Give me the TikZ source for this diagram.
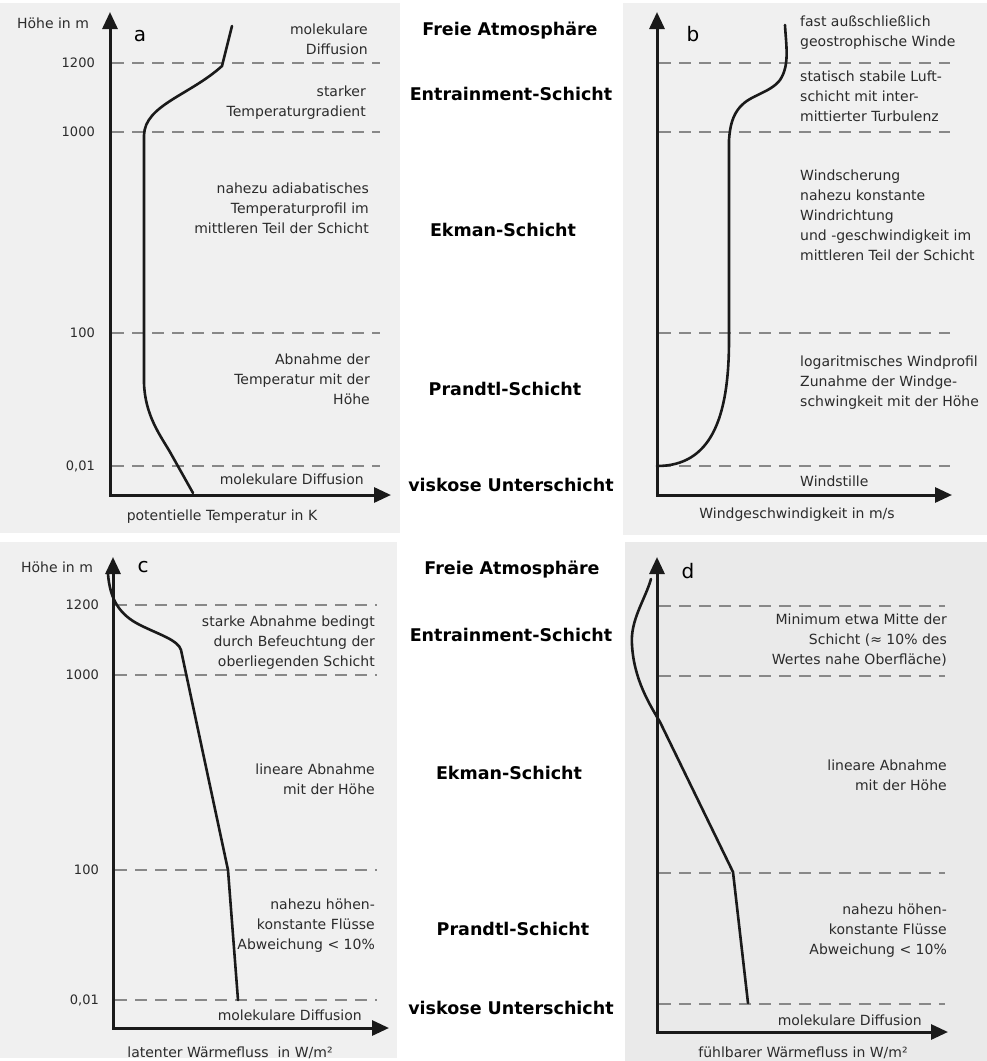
\documentclass[tikz,border=0pt]{standalone}
\usepackage{fontspec}
\setmainfont{DejaVu Sans}
\usetikzlibrary{arrows.meta}
\definecolor{bgA}{HTML}{F0F0F0}
\definecolor{bgD}{HTML}{EAEAEA}
\definecolor{txtg}{HTML}{2B2B2B}
\definecolor{dashg}{HTML}{888888}
\definecolor{curveg}{HTML}{1A1A1A}
\begin{document}
\begin{tikzpicture}[x=1pt,y=-1pt,
  txt/.style={font=\fontsize{14}{20}\selectfont, text=txtg, inner sep=0pt},
  rtxt/.style={txt, anchor=east, align=right},
  ltxt/.style={txt, anchor=west, align=left},
  ctxt/.style={txt, anchor=center, align=center},
  tick/.style={font=\fontsize{13}{15}\selectfont, text=txtg, inner sep=0pt, anchor=east},
  layer/.style={font=\bfseries\fontsize{17.5}{20}\selectfont, inner sep=0pt},
  plabel/.style={font=\fontsize{20}{22}\selectfont, inner sep=0pt},
  axis/.style={line width=3pt, curveg, {Triangle[length=17pt,width=15pt]}-{Triangle[length=17pt,width=15pt]}},
  level/.style={dashg, line width=1.3pt, dash pattern=on 12pt off 8pt},
  profile/.style={line width=2.6pt, line join=round, line cap=round, curveg}
]
\useasboundingbox (0,0) rectangle (987,1061);
\fill[white] (0,0) rectangle (987,1061);
% panel backgrounds
\fill[bgA] (0,3) rectangle (400,533);
\fill[bgA] (623,3) rectangle (987,535);
\fill[bgA] (0,542) rectangle (397,1058);
\fill[bgD] (625,542) rectangle (987,1061);

% ---------- panel a ----------
\coordinate (aT) at (110,12);
\coordinate (aO) at (110,495);
\coordinate (aX) at (391,495);
\foreach \y in {63,132,333,466} \draw[level] (112,\y) -- (380,\y);
\draw[axis] (aT) -- (aO) -- (aX);
\draw[profile] (232,26) -- (222,66) .. controls (190,95) and (145,105) .. (144,135)
  -- (144,383) .. controls (145,415) and (160,435) .. (170,452) -- (193,493);
\node[plabel] (la) at (140,36) {a};
\node[ctxt] (ha) at (53,23) {Höhe in m};
\node[tick] (a1200) at (95,63) {1200};
\node[tick] (a1000) at (95,132) {1000};
\node[tick] (a100) at (95,333) {100};
\node[tick] (a001) at (95,466) {0,01};
\node[rtxt] (at1) at (368,39) {molekulare\\Diffusion};
\node[rtxt] (at2) at (366,103) {starker\\Temperaturgradient};
\node[rtxt] (at3) at (369,208) {nahezu adiabatisches\\Temperaturprofil im\\mittleren Teil der Schicht};
\node[rtxt] (at4) at (370,379) {Abnahme der\\Temperatur mit der\\Höhe};
\node[rtxt] (at5) at (364,479) {molekulare Diffusion};
\node[ctxt] (ax) at (222,517) {potentielle Temperatur in K};

% ---------- panel b ----------
\coordinate (bT) at (657,12);
\coordinate (bO) at (657,495);
\coordinate (bX) at (952,495);
\foreach \y in {63,132,333,466} \draw[level] (659,\y) -- (950,\y);
\draw[axis] (bT) -- (bO) -- (bX);
\draw[profile] (785,25) .. controls (786,45) and (790,65) .. (780,80)
  .. controls (770,93) and (750,95) .. (740,107)
  .. controls (733,115) and (730,125) .. (729,140) -- (729,340)
  .. controls (729,420) and (710,466) .. (657,466);
\node[plabel] (lb) at (693,34) {b};
\node[ltxt] (bt1) at (800,33) {fast außschließlich\\geostrophische Winde};
\node[ltxt] (bt2) at (800,96) {statisch stabile Luft-\\schicht mit inter-\\mittierter Turbulenz};
\node[ltxt] (bt3) at (800,215) {Windscherung\\nahezu konstante\\Windrichtung\\und -geschwindigkeit im\\mittleren Teil der Schicht};
\node[ltxt] (bt4) at (800,383) {logaritmisches Windprofil\\Zunahme der Windge-\\schwingkeit mit der Höhe};
\node[ltxt] (bt5) at (800,481) {Windstille};
\node[ctxt] (bx) at (797,515) {Windgeschwindigkeit in m/s};

% ---------- panel c ----------
\coordinate (cT) at (113,557);
\coordinate (cO) at (113,1028);
\coordinate (cX) at (389,1028);
\foreach \y in {605,675,870,1000} \draw[level] (115,\y) -- (377,\y);
\draw[axis] (cT) -- (cO) -- (cX);
\draw[profile] (108,574) .. controls (110,600) and (120,615) .. (140,625)
  .. controls (160,635) and (178,640) .. (181,650) -- (228,870) -- (238,1000);
\node[plabel] (lc) at (143,567) {c};
\node[ctxt] (hc) at (57,567) {Höhe in m};
\node[tick] (c1200) at (99,605) {1200};
\node[tick] (c1000) at (99,675) {1000};
\node[tick] (c100) at (99,870) {100};
\node[tick] (c001) at (99,1000) {0,01};
\node[rtxt] (ct1) at (375,643) {starke Abnahme bedingt\\durch Befeuchtung der\\oberliegenden Schicht};
\node[rtxt] (ct2) at (375,779) {lineare Abnahme\\mit der Höhe};
\node[rtxt] (ct3) at (375,926) {nahezu höhen-\\konstante Flüsse\\Abweichung < 10\%};
\node[rtxt] (ct4) at (362,1015) {molekulare Diffusion};
\node[ctxt] (cx) at (230,1053) {latenter Wärmefluss~ in W/m²};

% ---------- panel d ----------
\coordinate (dT) at (657,557);
\coordinate (dO) at (657,1032);
\coordinate (dX) at (948,1032);
\foreach \y in {606,676,873,1004} \draw[level] (659,\y) -- (945,\y);
\draw[axis] (dT) -- (dO) -- (dX);
\draw[profile] (651,579) .. controls (645,600) and (630,620) .. (632,645)
  .. controls (634,680) and (650,705) .. (660,722) -- (733,872) -- (748,1003);
\node[plabel] (ld) at (688,571) {d};
\node[rtxt] (dt1) at (947,640) {Minimum etwa Mitte der\\Schicht (≈ 10\% des\\Wertes nahe Oberfläche)};
\node[rtxt] (dt2) at (947,775) {lineare Abnahme\\mit der Höhe};
\node[rtxt] (dt3) at (947,931) {nahezu höhen-\\konstante Flüsse\\Abweichung < 10\%};
\node[rtxt] (dt4) at (922,1020) {molekulare Diffusion};
\node[ctxt] (dx) at (803,1053) {fühlbarer Wärmefluss in W/m²};

% ---------- middle layer names ----------
\node[layer] (m1) at (510,31) {Freie Atmosphäre};
\node[layer] (m2) at (511,94) {Entrainment-Schicht};
\node[layer] (m3) at (503,230) {Ekman-Schicht};
\node[layer] (m4) at (505,389) {Prandtl-Schicht};
\node[layer] (m5) at (511,485) {viskose Unterschicht};
\node[layer] (n1) at (512,570) {Freie Atmosphäre};
\node[layer] (n2) at (511,635) {Entrainment-Schicht};
\node[layer] (n3) at (509,773) {Ekman-Schicht};
\node[layer] (n4) at (513,929) {Prandtl-Schicht};
\node[layer] (n5) at (511,1008) {viskose Unterschicht};
\end{tikzpicture}
\end{document}
